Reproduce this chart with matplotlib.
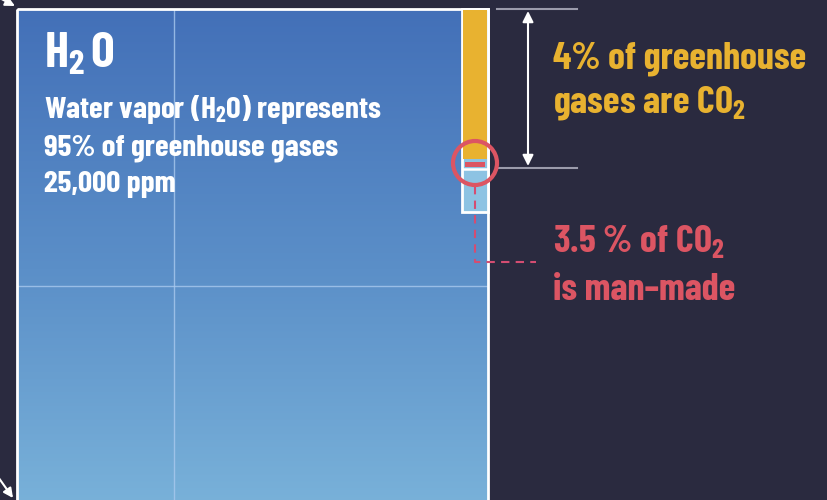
import matplotlib
matplotlib.use('Agg')
import numpy as np
import matplotlib.pyplot as plt
from matplotlib.patches import Rectangle, Circle
from matplotlib.colors import LinearSegmentedColormap

# values shown in the graphic
gas_names = ['H_2\\hspace{0.12}O', 'CO_2']
share_pct = [95, 4, 3.5]          # water vapor, CO2, man-made part of CO2
h2o_ppm = 25000

BG = '#2a2a3f'
YELLOW = '#e8b230'
RED = '#dc5563'
WHITE = '#ffffff'
FONT = ['Barlow Condensed', 'Roboto Condensed', 'DejaVu Sans']

fig = plt.figure(figsize=(8.27, 5.0), dpi=100, facecolor=BG)
ax = fig.add_axes([0, 0, 1, 1])
ax.set_xlim(0, 827)
ax.set_ylim(500, 0)
ax.axis('off')
ax.set_facecolor(BG)

# big water vapor square with vertical gradient
cmap = LinearSegmentedColormap.from_list('sky', ['#4370b8', '#5b8fc8', '#7cb5db'])
grad = np.linspace(0, 1, 256).reshape(-1, 1)
ax.imshow(grad, cmap=cmap, aspect='auto', extent=[17, 488, 530, 9], zorder=1)
ax.add_patch(Rectangle((17, 9), 471, 540, fill=False, ec=WHITE, lw=2, zorder=3))

# faint grid inside the square
ax.plot([174, 174], [10, 500], color='#a9c9ee', lw=1, alpha=0.8, zorder=2)
ax.plot([18, 487], [286, 286], color='#a9c9ee', lw=1, alpha=0.8, zorder=2)

# CO2 column
ax.add_patch(Rectangle((462, 9), 26, 203, fc='#8dc3e3', ec=WHITE, lw=2, zorder=4))
ax.add_patch(Rectangle((463, 10), 24, 149, fc=YELLOW, ec='none', zorder=5))
ax.add_patch(Rectangle((465, 161.5), 20, 5, fc=RED, ec='none', zorder=5))
ax.plot([463, 487], [169, 169], color=WHITE, lw=1.8, zorder=5)
ax.add_patch(Circle((475, 163), 22, fill=False, ec=RED, lw=3, zorder=6))

# dashed leader to the man-made label
ax.plot([475, 475, 536], [186, 262, 262], color='#d44d72', lw=1.5,
        ls=(0, (4, 3)), zorder=5)

# dimension lines for the CO2 share
ax.plot([497, 577], [9, 9], color='#9b9bab', lw=1.5, zorder=3)
ax.plot([497, 577], [168, 168], color='#9b9bab', lw=1.5, zorder=3)
ax.annotate('', xy=(528, 166), xytext=(528, 11),
            arrowprops=dict(arrowstyle='<|-|>', color=WHITE, lw=1.5,
                            mutation_scale=16, shrinkA=0, shrinkB=0), zorder=4)

# corner arrows cut by the frame
ax.annotate('', xy=(15, 6), xytext=(-12, -8),
            arrowprops=dict(arrowstyle='-|>', color=WHITE, lw=1.5,
                            mutation_scale=14, shrinkA=0, shrinkB=0))
ax.annotate('', xy=(13, 498), xytext=(-4, 474),
            arrowprops=dict(arrowstyle='-|>', color=WHITE, lw=1.5,
                            mutation_scale=14, shrinkA=0, shrinkB=0))

txt = dict(family=FONT, weight='bold', va='baseline', ha='left', zorder=7)

ax.text(44, 67, r'$\mathregular{%s}$' % gas_names[0], color=WHITE, fontsize=36, **txt)
body = [r'Water vapor ($\mathregular{H_2O}$) represents',
        f'{share_pct[0]}% of greenhouse gases',
        f'{h2o_ppm:,} ppm']
for i, line in enumerate(body):
    ax.text(44, 118 + i * 37, line, color=WHITE, fontsize=22.5, **txt)

ax.text(553, 69, f'{share_pct[1]}% of greenhouse', color=YELLOW, fontsize=27.5, **txt)
ax.text(553, 113, r'gases are $\mathregular{%s}$' % gas_names[1], color=YELLOW,
        fontsize=27.5, **txt)

ax.text(553, 252, r'%s %% of $\mathregular{%s}$' % (share_pct[2], gas_names[1]),
        color=RED, fontsize=27.5, **txt)
ax.text(553, 300, 'is man\u2013made', color=RED, fontsize=27.5, **txt)

fig.savefig('out.png', dpi=100, facecolor=BG)
